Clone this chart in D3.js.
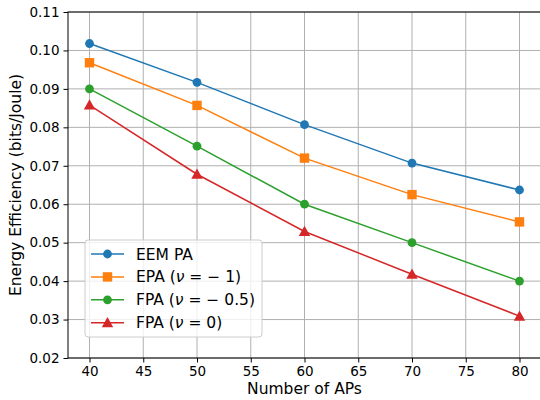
<!DOCTYPE html>
<html>
<head>
<meta charset="utf-8">
<script src="https://cdn.jsdelivr.net/npm/d3@7"></script>
<style>
  body { margin: 0; background: white; }
  svg text { font-family: "DejaVu Sans", sans-serif; fill: #000; }
</style>
</head>
<body>
<div id="chart"></div>
<script>
let aps = [40, 50, 60, 70, 80];
let eem_pa = [0.1018, 0.0917, 0.0807, 0.0707, 0.0637];
let epa_m1 = [0.0968, 0.0857, 0.0720, 0.0625, 0.0554];
let fpa_m05 = [0.0900, 0.0751, 0.0600, 0.0500, 0.0400];
let fpa_0 = [0.0858, 0.0678, 0.0529, 0.0418, 0.0309];
let x_ticks = [40, 45, 50, 55, 60, 65, 70, 75, 80];
let y_ticks = [0.02, 0.03, 0.04, 0.05, 0.06, 0.07, 0.08, 0.09, 0.10, 0.11];

// label parts: [prefix, greek, suffix]
let series = [
    {name: ["EEM PA", "", ""], values: eem_pa, color: "#1f77b4", marker: "circle"},
    {name: ["EPA (", "ν", " = − 1)"], values: epa_m1, color: "#ff7f0e", marker: "square"},
    {name: ["FPA (", "ν", " = − 0.5)"], values: fpa_m05, color: "#2ca02c", marker: "circle"},
    {name: ["FPA (", "ν", " = 0)"], values: fpa_0, color: "#d62728", marker: "triangle"}
];

let _default = {
    width: 540,
    height: 400,
    left: 68,
    right: 541,
    top: 12,
    bottom: 358,
    grid: "#b0b0b0"
};

let svg = d3.select("div#chart")
    .append("svg")
    .attr("width", _default.width)
    .attr("height", _default.height);

let x = d3.scaleLinear().domain([38, 82]).range([_default.left, _default.right]);
let y = d3.scaleLinear().domain([0.02, 0.11]).range([_default.bottom, _default.top]);

// grid
svg.append("g").selectAll("line").data(x_ticks).enter().append("line")
    .attr("x1", d => x(d)).attr("x2", d => x(d))
    .attr("y1", _default.top).attr("y2", _default.bottom)
    .attr("stroke", _default.grid).attr("stroke-width", 1);
svg.append("g").selectAll("line").data(y_ticks).enter().append("line")
    .attr("x1", _default.left).attr("x2", _default.right)
    .attr("y1", d => y(d)).attr("y2", d => y(d))
    .attr("stroke", _default.grid).attr("stroke-width", 1);

// axes
let xAxis = svg.append("g")
    .attr("transform", `translate(0, ${_default.bottom})`)
    .call(d3.axisBottom(x).tickValues(x_ticks).tickSize(4.5).tickPadding(4).tickFormat(d3.format("d")));
let yAxis = svg.append("g")
    .attr("transform", `translate(${_default.left}, 0)`)
    .call(d3.axisLeft(y).tickValues(y_ticks).tickSize(4.5).tickPadding(4).tickFormat(d3.format(".2f")));
[xAxis, yAxis].forEach(a => {
    a.selectAll("path.domain").remove();
    a.selectAll("line").attr("stroke", "#000").attr("stroke-width", 1);
    a.selectAll("text").attr("font-size", 13.5).attr("font-family", "DejaVu Sans");
});

// frame
svg.append("rect")
    .attr("x", _default.left).attr("y", _default.top)
    .attr("width", _default.right - _default.left)
    .attr("height", _default.bottom - _default.top)
    .attr("fill", "none").attr("stroke", "#000").attr("stroke-width", 1);

// axis labels
svg.append("text")
    .attr("x", (_default.left + _default.right) / 2)
    .attr("y", 394)
    .attr("text-anchor", "middle")
    .attr("font-size", 15.5)
    .text("Number of APs");
svg.append("text")
    .attr("transform", `translate(21, ${(_default.top + _default.bottom) / 2}) rotate(-90)`)
    .attr("text-anchor", "middle")
    .attr("font-size", 15.5)
    .text("Energy Efficiency (bits/Joule)");

let drawMarker = (g, marker, color, cx, cy) => {
    if (marker === "circle") {
        g.append("circle").attr("cx", cx).attr("cy", cy).attr("r", 4.4).attr("fill", color);
    } else if (marker === "square") {
        g.append("rect").attr("x", cx - 4.7).attr("y", cy - 4.7)
            .attr("width", 9.4).attr("height", 9.4).attr("fill", color);
    } else {
        let s = 5.7;
        g.append("path")
            .attr("d", `M${cx},${cy - s} L${cx + s},${cy + s * 0.8} L${cx - s},${cy + s * 0.8} Z`)
            .attr("fill", color);
    }
};

let line = d3.line().x((d, i) => x(aps[i])).y(d => y(d));
series.forEach(s => {
    let g = svg.append("g");
    g.append("path")
        .attr("d", line(s.values))
        .attr("fill", "none")
        .attr("stroke", s.color)
        .attr("stroke-width", 1.5);
    s.values.forEach((v, i) => drawMarker(g, s.marker, s.color, x(aps[i]), y(v)));
});

// legend
let lg = svg.append("g");
lg.append("rect")
    .attr("x", 85).attr("y", 240).attr("width", 177).attr("height", 97)
    .attr("rx", 3)
    .attr("fill", "white").attr("fill-opacity", 0.8)
    .attr("stroke", "#cccccc").attr("stroke-width", 1);
series.forEach((s, i) => {
    let cy = 254 + i * 22.9;
    lg.append("line")
        .attr("x1", 91).attr("x2", 124)
        .attr("y1", cy).attr("y2", cy)
        .attr("stroke", s.color).attr("stroke-width", 1.5);
    drawMarker(lg, s.marker, s.color, 107.5, cy);
    let t = lg.append("text")
        .attr("x", 136).attr("y", cy + 5.5)
        .attr("font-size", 15.5)
        .attr("xml:space", "preserve")
        .style("white-space", "pre");
    t.append("tspan").text(s.name[0]);
    if (s.name[1]) {
        t.append("tspan").attr("font-style", "italic").text(s.name[1]);
        t.append("tspan").text(s.name[2]);
    }
});
</script>
</body>
</html>
